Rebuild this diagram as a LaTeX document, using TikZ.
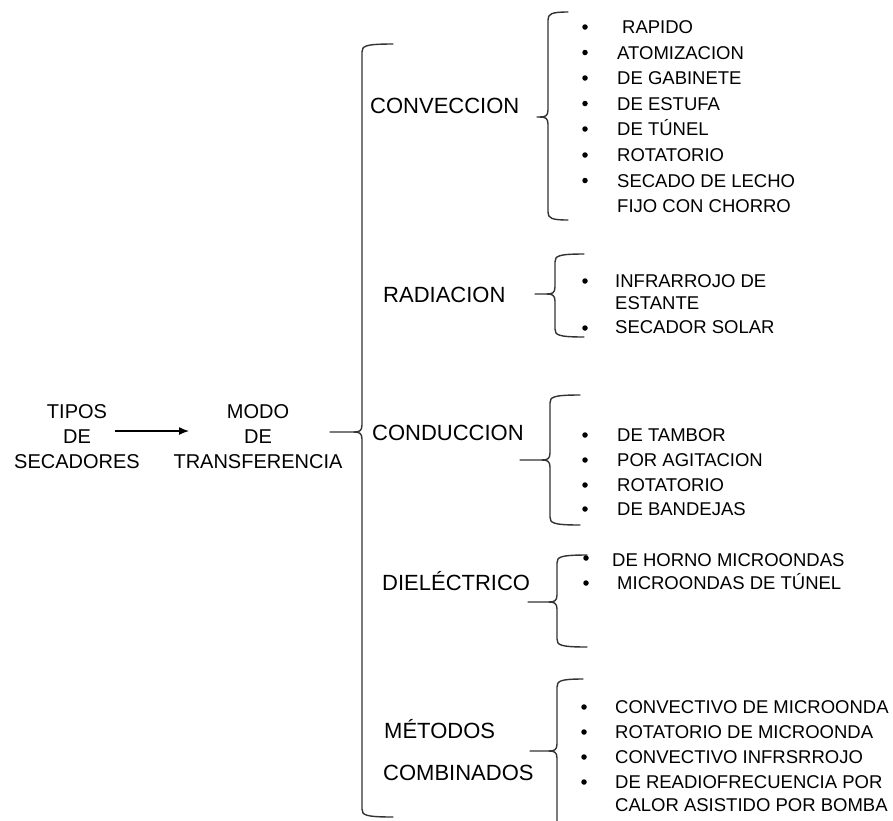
\documentclass[tikz,border=0pt]{standalone}
\usepackage{fontspec}
\setmainfont{Liberation Sans}
\usetikzlibrary{arrows.meta}
\newcommand{\mybrace}[6]{%
  \draw[brc] (#4,#2) .. controls (#1+3,#2) and (#1,#2+2) .. (#1,#2+8) -- (#1,#6-7)
     .. controls (#1,#6-1) and (#1-3,#6) .. (#1-8,#6) -- (#5,#6);
  \draw[brc] (#1-8,#6) .. controls (#1-3,#6) and (#1,#6+1) .. (#1,#6+7) -- (#1,#3-8)
     .. controls (#1,#3-2) and (#1+3,#3) .. (#4,#3);}
\begin{document}
\begin{tikzpicture}[x=1pt,y=-1pt,
  brc/.style={line width=1.4pt, draw=black!80, line cap=round},
  lst/.style={font=\fontsize{18.5}{22}\selectfont, inner sep=0pt, anchor=base west},
  hd/.style={font=\fontsize{22}{26}\selectfont, inner sep=0pt, anchor=base west},
  lft/.style={font=\fontsize{20}{25}\selectfont, inner sep=0pt, align=center},
  bul/.style={circle, fill=black, inner sep=0pt, minimum size=5.5pt}]
\useasboundingbox[fill=white] (0,0) rectangle (893,820);

% left part
\node[lft] (tipos) at (77,437) {TIPOS\\DE\\SECADORES};
\node[lft] (modo) at (258,437) {MODO\\DE\\TRANSFERENCIA};
\coordinate (arS) at (115,431);
\coordinate (arE) at (189,431);
\draw[line width=1.3pt, -{Latex[length=10pt,width=8pt]}] (arS) -- (arE);

% big brace
\mybrace{362}{44}{817}{393}{330}{432}

% headings
\node[hd] (conv) at (370,106+7.9) {CONVECCION};
\node[hd] (rad) at (383,295+7.9) {RADIACION};
\node[hd] (cond) at (372,433+7.9) {CONDUCCION};
\node[hd] (diel) at (382,583+7.9) {DIELÉCTRICO};
\node[hd] (met1) at (384,731+7.9) {MÉTODOS};
\node[hd] (met2) at (383,773+7.9) {COMBINADOS};

% sub braces
\mybrace{548}{12}{220}{568}{537}{117}
\mybrace{555}{254}{337}{584}{535}{294}
\mybrace{550}{395}{525}{580}{520}{460}
\mybrace{557}{555}{647}{587}{528}{602}
\draw[brc] (583,679) .. controls (560,679) and (557,681) .. (557,687) -- (557,744)
   .. controls (557,750) and (554,751) .. (549,751) -- (530,751);
\draw[brc] (549,751) .. controls (554,751) and (557,752) .. (557,758) -- (557,822);

% convection list
\node[bul] (cb1) at (585,27) {};
\node[bul] (cb2) at (585,52.5) {};
\node[bul] (cb3) at (585,78) {};
\node[bul] (cb4) at (585,103.5) {};
\node[bul] (cb5) at (585,129) {};
\node[bul] (cb6) at (585,155) {};
\node[bul] (cb7) at (585,180.5) {};
\node[lst] (c1) at (622,27+6.6) {RAPIDO};
\node[lst] (c2) at (617,52.5+6.6) {ATOMIZACION};
\node[lst] (c3) at (617,78+6.6) {DE GABINETE};
\node[lst] (c4) at (617,103.5+6.6) {DE ESTUFA};
\node[lst] (c5) at (617,129+6.6) {DE TÚNEL};
\node[lst] (c6) at (617,155+6.6) {ROTATORIO};
\node[lst] (c7) at (617,180.5+6.6) {SECADO DE LECHO};
\node[lst] (c8) at (617,206+6.6) {FIJO CON CHORRO};

% radiation list
\node[bul] (rb1) at (585,281) {};
\node[bul] (rb2) at (585,328) {};
\node[lst] (r1) at (615,281+6.6) {INFRARROJO DE};
\node[lst] (r2) at (615,303+6.6) {ESTANTE};
\node[lst] (r3) at (615,327+6.6) {SECADOR SOLAR};

% conduction list
\node[bul] (kb1) at (585,435) {};
\node[bul] (kb2) at (585,460) {};
\node[bul] (kb3) at (585,485) {};
\node[bul] (kb4) at (585,509) {};
\node[lst] (k1) at (617,435+6.6) {DE TAMBOR};
\node[lst] (k2) at (617,460+6.6) {POR AGITACION};
\node[lst] (k3) at (617,485+6.6) {ROTATORIO};
\node[lst] (k4) at (617,509+6.6) {DE BANDEJAS};

% dielectric list
\node[bul] (db1) at (586,558) {};
\node[bul] (db2) at (586,583) {};
\node[lst] (d1) at (612,560+6.6) {DE HORNO MICROONDAS};
\node[lst] (d2) at (617,583+6.6) {MICROONDAS DE TÚNEL};

% combined list
\node[bul] (mb1) at (584,707) {};
\node[bul] (mb2) at (584,732) {};
\node[bul] (mb3) at (584,757) {};
\node[bul] (mb4) at (584,782) {};
\node[lst] (m1) at (615,707+6.6) {CONVECTIVO DE MICROONDA};
\node[lst] (m2) at (615,732+6.6) {ROTATORIO DE MICROONDA};
\node[lst] (m3) at (615,757+6.6) {CONVECTIVO INFRSRROJO};
\node[lst] (m4) at (615,782+6.6) {DE READIOFRECUENCIA POR};
\node[lst] (m5) at (615,805+6.6) {CALOR ASISTIDO POR BOMBA};
\end{tikzpicture}
\end{document}
